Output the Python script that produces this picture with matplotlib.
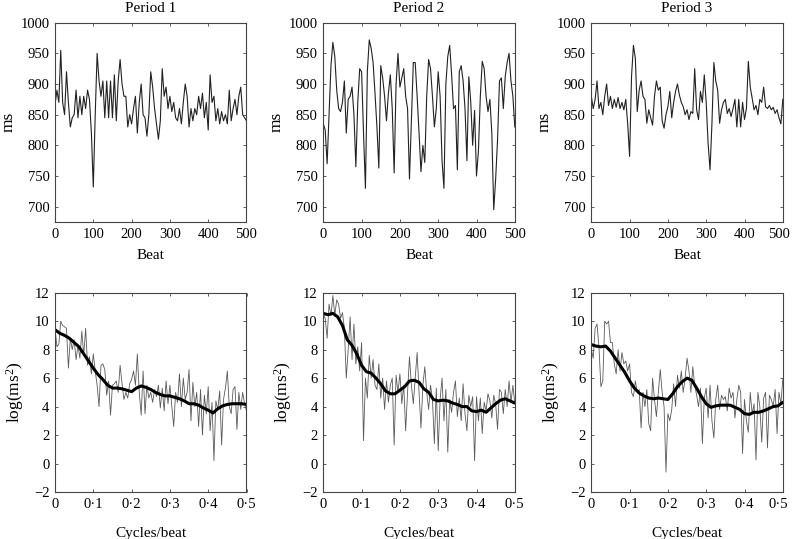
import numpy as np
import matplotlib
matplotlib.use("Agg")
import matplotlib.pyplot as plt
from matplotlib.ticker import FuncFormatter, MultipleLocator

plt.rcParams['font.family'] = ['Liberation Serif', 'DejaVu Serif']
plt.rcParams['mathtext.fontset'] = 'custom'
plt.rcParams['mathtext.rm'] = 'Liberation Serif'
plt.rcParams['mathtext.it'] = 'Liberation Serif:italic'
plt.rcParams['axes.unicode_minus'] = True

titles = ["Period 1", "Period 2", "Period 3"]

# ---- RR interval series (ms), sampled every 5 beats from 0 to 500 ----
beat_step = 5
rr_p1 = [865, 890, 870, 955, 870, 850, 920, 870, 830, 845,
         850, 890, 845, 880, 850, 880, 860, 890, 875, 820,
         732, 850, 950, 905, 880, 905, 845, 905, 845, 905,
         845, 915, 840, 905, 940, 900, 880, 880, 830, 850,
         835, 860, 880, 820, 870, 900, 850, 845, 815, 850,
         920, 895, 860, 835, 810, 840, 925, 880, 895, 860,
         880, 855, 870, 845, 840, 860, 835, 870, 900, 880,
         830, 860, 840, 860, 850, 880, 860, 885, 845, 870,
         825, 915, 870, 880, 840, 860, 835, 855, 840, 850,
         835, 890, 840, 860, 875, 850, 880, 895, 850, 845,
         840]
rr_p2 = [835, 825, 770, 850, 930, 968, 945, 890, 860, 855,
         870, 905, 820, 875, 880, 895, 850, 765, 870, 925,
         920, 820, 730, 920, 972, 958, 935, 885, 830, 763,
         930, 910, 880, 840, 885, 915, 860, 755, 900, 950,
         895, 910, 925, 880, 860, 745, 840, 935, 935, 880,
         820, 757, 800, 772, 880, 940, 925, 880, 830, 860,
         920, 880, 775, 730, 900, 945, 963, 915, 860, 865,
         760, 920, 930, 905, 860, 775, 912, 870, 800, 857,
         750, 790, 880, 937, 925, 880, 855, 875, 820, 695,
         745, 810, 905, 910, 860, 912, 935, 950, 905, 880,
         830]
rr_p3 = [880, 860, 875, 905, 860, 870, 850, 880, 900, 865,
         880, 860, 875, 862, 878, 860, 870, 858, 875, 835,
         782, 912, 963, 942, 855, 890, 905, 880, 875, 836,
         858, 845, 833, 880, 905, 890, 895, 840, 828, 850,
         863, 888, 845, 870, 888, 900, 882, 870, 863, 850,
         858, 842, 855, 852, 925, 858, 842, 888, 870, 915,
         870, 803, 760, 836, 935, 905, 890, 836, 858, 870,
         875, 852, 860, 847, 860, 875, 830, 875, 830, 870,
         842, 860, 937, 895, 877, 858, 865, 850, 875, 870,
         895, 863, 860, 865, 858, 862, 852, 858, 845, 835,
         875]

# ---- log spectra, raw (every 0.005 cycles/beat) ----
freq_step = 0.005
spec_p1 = [9.5, 8.2, 8.4, 10.0, 9.7, 9.6, 9.5, 6.7, 8.8, 8.0,
           8.7, 7.3, 8.3, 7.4, 9.3, 7.6, 9.5, 6.9, 7.5, 6.3,
           7.7, 6.5, 5.5, 4.0, 6.9, 7.0, 6.6, 4.8, 5.8, 3.4,
           5.5, 5.6, 5.8, 5.0, 6.9, 5.6, 4.5, 5.0, 4.6, 5.6,
           5.9, 6.5, 5.5, 7.7, 5.0, 3.4, 6.5, 3.5, 5.5, 4.6,
           5.0, 4.3, 5.2, 4.7, 5.5, 3.9, 5.3, 3.7, 5.8, 4.2,
           5.5, 4.0, 2.6, 5.0, 4.3, 6.3, 4.0, 6.0, 4.5, 5.0,
           6.6, 3.0, 5.7, 4.0, 5.0, 2.6, 5.2, 2.0, 4.8, 3.5,
           5.4, 2.3, 4.3, 0.2, 4.4, 3.8, 5.1, 1.3, 4.5, 5.3,
           6.5, 4.0, 3.5, 5.2, 5.4, 2.4, 5.0, 3.8, 5.0, 4.2,
           3.7]
spec_p2 = [10.5, 10.2, 8.8, 11.2, 10.4, 11.8, 10.4, 11.5, 11.2, 10.2,
           10.6, 9.5, 6.0, 8.0, 10.3, 7.3, 9.8, 7.0, 8.2, 6.5,
           8.5, 1.6, 6.0, 4.6, 7.6, 6.0, 7.3, 5.5, 5.2, 7.0,
           4.6, 6.0, 3.8, 5.8, 4.3, 5.5, 6.0, 1.3, 6.2, 5.0,
           6.3, 4.2, 5.5, 2.3, 5.0, 7.5, 5.5, 4.2, 6.0, 7.8,
           5.0, 2.5, 5.5, 6.8, 5.0, 3.8, 5.5, 4.5, 1.4, 5.3,
           0.9, 4.5, 6.0, 3.0, 5.2, 0.8, 4.5, 3.6, 5.0, 5.8,
           3.3, 4.6, 3.0, 5.6, 3.5, 2.3, 4.8, 4.0, 4.7, 0.2,
           4.7, 3.0, 4.6, 2.1, 4.3, 3.7, 4.9, 4.4, 3.2, 4.8,
           4.2, 2.4, 5.2, 5.0, 3.5, 5.2, 4.0, 5.8, 4.3, 5.5,
           4.2]
spec_p3 = [8.0, 7.4, 9.5, 9.8, 8.2, 5.4, 5.8, 10.0, 9.8, 10.0,
           8.5, 8.5, 7.0, 6.3, 8.0, 6.5, 7.8, 7.0, 7.2, 6.5,
           7.0, 5.0, 4.7, 5.8, 5.0, 5.2, 2.5, 5.0, 4.0, 5.2,
           2.8, 2.3, 6.0, 4.5, 3.3, 5.0, 6.6, 5.0, 4.0, -0.6,
           3.5, 3.0, 3.8, 5.6, 4.0, 6.2, 5.3, 6.5, 5.0, 6.0,
           7.4, 6.5, 5.0, 6.8, 5.5, 4.8, 4.0, 5.3, 1.4, 4.6,
           5.3, 3.2, 5.5, 3.0, 1.8, 4.5, 5.5, 3.8, 4.8, 4.5,
           4.7, 3.7, 5.3, 4.6, 5.0, 3.2, 4.5, 5.5, 5.0, 0.7,
           4.5, 3.0, 2.2, 5.0, 3.5, 4.2, 0.25, 5.0, 4.0, 1.5,
           4.6, 5.0, 1.1, 4.8, 4.5, 4.0, 5.2, 2.1, 5.0, 4.2,
           5.9]

# ---- smoothed log spectra (every 0.0125 cycles/beat) ----
smooth_step = 0.0125
smooth_p1 = [9.4, 9.15, 9.0, 8.8, 8.5, 8.2, 7.7, 7.2, 6.7, 6.25,
             5.9, 5.5, 5.3, 5.3, 5.25, 5.15, 5.05, 5.3, 5.45, 5.35,
             5.2, 5.0, 4.85, 4.75, 4.75, 4.65, 4.55, 4.4, 4.2, 4.2,
             4.1, 3.9, 3.75, 3.55, 3.85, 4.05, 4.15, 4.2, 4.2, 4.2,
             4.15]
smooth_p2 = [10.55, 10.45, 10.55, 10.3, 9.7, 8.7, 8.3, 7.7, 6.9, 6.45,
             6.35, 6.0, 5.6, 5.1, 4.9, 4.9, 5.15, 5.4, 5.8, 5.85,
             5.7, 5.25, 5.0, 4.5, 4.4, 4.45, 4.4, 4.25, 4.15, 4.0,
             4.0, 3.7, 3.65, 3.75, 3.6, 3.9, 4.2, 4.45, 4.55, 4.4,
             4.25]
smooth_p3 = [8.35, 8.25, 8.2, 8.25, 7.9, 7.4, 6.9, 6.4, 5.8, 5.3,
             4.95, 4.75, 4.6, 4.55, 4.6, 4.55, 4.5, 4.9, 5.4, 5.75,
             6.0, 5.85, 5.3, 4.7, 4.2, 3.95, 4.05, 4.1, 4.1, 4.1,
             3.95, 3.8, 3.5, 3.45, 3.6, 3.6, 3.7, 3.85, 4.0, 4.05,
             4.3]

rr_all = [rr_p1, rr_p2, rr_p3]
spec_all = [spec_p1, spec_p2, spec_p3]
smooth_all = [smooth_p1, smooth_p2, smooth_p3]

fig = plt.figure(figsize=(7.92, 5.39), dpi=100)
W, H = 792.0, 539.0
lefts = [55, 323.3, 591.3]
aw, ah = 191.5, 199.3
top_row_bottom = 222.0
bot_row_bottom = 492.0

spine_col = '#444444'
tick_fs = 10.5

def style(ax):
    for s in ax.spines.values():
        s.set_color(spine_col)
        s.set_linewidth(0.8)
    ax.tick_params(direction='in', length=2.5, width=0.6, color=spine_col,
                   labelsize=tick_fs, pad=4, top=True, right=True)

def dot_text(v):
    return '0' if abs(v) < 1e-9 else f'{v:.1f}'.replace('.', '\u00b7')

def make_fmt(dot, hide_last, last):
    def fmt(v, p):
        if hide_last and abs(v - last) < 1e-9:
            return ''
        return dot_text(v) if dot else f'{v:g}'
    return FuncFormatter(fmt)

for i in range(3):
    last_col = (i == 2)
    # top: RR series
    ax = fig.add_axes([lefts[i] / W, 1 - top_row_bottom / H, aw / W, ah / H])
    y = np.array(rr_all[i], dtype=float)
    x = np.arange(len(y)) * beat_step
    ax.plot(x, y, color='#222222', lw=0.8)
    ax.set_xlim(0, 500)
    ax.set_ylim(675, 1000)
    ax.xaxis.set_major_locator(MultipleLocator(100))
    ax.yaxis.set_major_locator(MultipleLocator(50))
    ax.xaxis.set_major_formatter(make_fmt(False, last_col, 500))
    ax.set_title(titles[i], fontsize=11, pad=8)
    ax.set_xlabel('Beat', fontsize=11, labelpad=6)
    ax.set_ylabel('ms', fontsize=12.5, labelpad=3)
    style(ax)
    if last_col:
        ax.annotate('500', xy=(500, 0), xycoords=('data', 'axes fraction'),
                    xytext=(-3, -4), textcoords='offset points',
                    ha='center', va='top', fontsize=tick_fs)

    # bottom: spectra
    ax2 = fig.add_axes([lefts[i] / W, 1 - bot_row_bottom / H, aw / W, ah / H])
    s = np.array(spec_all[i], dtype=float)
    f = np.arange(len(s)) * freq_step
    ax2.plot(f, s, color='#5a5a5a', lw=0.6)
    sm = np.array(smooth_all[i], dtype=float)
    fs = np.arange(len(sm)) * smooth_step
    ax2.plot(fs, sm, color='black', lw=2.2, solid_capstyle='round')
    ax2.set_xlim(0, 0.5)
    ax2.set_ylim(-2, 12)
    ax2.xaxis.set_major_locator(MultipleLocator(0.1))
    ax2.yaxis.set_major_locator(MultipleLocator(2))
    ax2.xaxis.set_major_formatter(make_fmt(True, last_col, 0.5))
    ax2.set_xlabel('Cycles/beat', fontsize=11, labelpad=12)
    ax2.set_ylabel('log(ms$^2$)', fontsize=12.5, labelpad=6)
    style(ax2)
    if last_col:
        ax2.annotate(dot_text(0.5), xy=(0.5, 0), xycoords=('data', 'axes fraction'),
                     xytext=(-3, -4), textcoords='offset points',
                     ha='center', va='top', fontsize=tick_fs)

fig.savefig('out.png', dpi=100)
